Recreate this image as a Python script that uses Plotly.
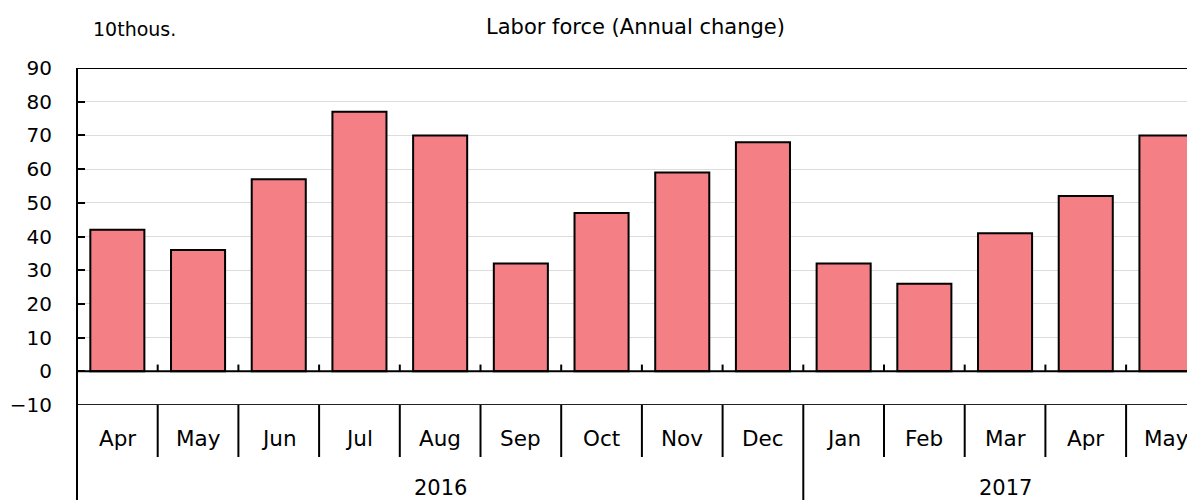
import plotly.graph_objects as go

months = ["Apr", "May", "Jun", "Jul", "Aug", "Sep", "Oct", "Nov", "Dec",
          "Jan", "Feb", "Mar", "Apr", "May"]
years = ["2016"] * 9 + ["2017"] * 5
values = [42, 36, 57, 77, 70, 32, 47, 59, 68, 32, 26, 41, 52, 70]
y_ticks = [-10, 0, 10, 20, 30, 40, 50, 60, 70, 80, 90]
title_text = "Labor force (Annual change)"
unit_text = "10thous."

FONT = "DejaVu Sans"
BAR_COLOR = "#F47F85"

# page offset (body margin) is 8px
OFF = 8
W, H = 1195 - OFF, 500 - OFF
L, R, T, B = 77 - OFF, 0, 68 - OFF, 95
pw, ph = W - L - R, H - T - B
cat_px = 80.7

n = len(values)
xs = list(range(n))
x_max = -0.5 + pw / cat_px  # right side clipped like the reference

def px_to_paper(xp, yp):
    return (xp - OFF - L) / pw, (H - B - (yp - OFF)) / ph

fig = go.Figure()
fig.add_trace(go.Bar(
    x=xs, y=values, width=0.67,
    marker=dict(color=BAR_COLOR, line=dict(color="black", width=2)),
    hoverinfo="x+y",
))

below_short = -52 / ph
below_long = -B / ph

shapes = []
shapes.append(dict(type="line", xref="paper", yref="y", x0=0, x1=1, y0=0, y1=0,
                   line=dict(color="black", width=2)))
shapes.append(dict(type="line", xref="paper", yref="y", x0=0, x1=1, y0=90, y1=90,
                   line=dict(color="black", width=2)))
shapes.append(dict(type="line", xref="paper", yref="y", x0=0, x1=1, y0=-10, y1=-10,
                   line=dict(color="#222222", width=2)))
shapes.append(dict(type="line", xref="paper", yref="paper", x0=0, x1=0, y0=below_long, y1=1,
                   line=dict(color="black", width=2)))
for i in range(n - 1):
    b = i + 0.5
    shapes.append(dict(type="line", xref="x", yref="y", x0=b, x1=b, y0=0, y1=2,
                       line=dict(color="black", width=2)))
    y0 = below_long if years[i] != years[i + 1] else below_short
    shapes.append(dict(type="line", xref="x", yref="paper", x0=b, x1=b, y0=y0, y1=0,
                       line=dict(color="black", width=2)))

annotations = []
for i, m in enumerate(months):
    annotations.append(dict(x=i, y=-33 / ph, xref="x", yref="paper", text=m,
                            showarrow=False, font=dict(family=FONT, size=21.5, color="black"),
                            xanchor="center", yanchor="middle"))
groups = {}
for i, yv in enumerate(years):
    groups.setdefault(yv, []).append(i)
for yv, idx in groups.items():
    lo, hi = idx[0] - 0.5, idx[-1] + 0.5
    annotations.append(dict(x=(lo + hi) / 2, y=-83 / ph, xref="x", yref="paper", text=yv,
                            showarrow=False, font=dict(family=FONT, size=21, color="black"),
                            xanchor="center", yanchor="middle"))
tx, ty = px_to_paper(635, 27)
annotations.append(dict(x=tx, y=ty, xref="paper", yref="paper", text=title_text,
                        showarrow=False, font=dict(family=FONT, size=21, color="black"),
                        xanchor="center", yanchor="middle"))
ux, uy = px_to_paper(91, 29)
annotations.append(dict(x=ux, y=uy, xref="paper", yref="paper", text=unit_text,
                        showarrow=False, font=dict(family=FONT, size=19, color="black"),
                        xanchor="left", yanchor="middle"))

fig.update_layout(
    width=W, height=H,
    margin=dict(l=L, r=R, t=T, b=B, pad=0),
    paper_bgcolor="white", plot_bgcolor="white",
    showlegend=False,
    shapes=shapes,
    annotations=annotations,
    font=dict(family=FONT, size=20, color="black"),
    xaxis=dict(range=[-0.5, x_max], showticklabels=False, showgrid=False,
               zeroline=False, showline=False, ticks="", fixedrange=True),
    yaxis=dict(range=[-10, 90], tickvals=y_ticks, ticks="inside", ticklen=8,
               tickwidth=2, tickcolor="black", showline=False,
               showgrid=True, gridcolor="#dcdcdc", gridwidth=1, zeroline=False,
               tickfont=dict(family=FONT, size=20, color="black"),
               ticklabelstandoff=24, fixedrange=True),
)

fig.write_html("out.html")
